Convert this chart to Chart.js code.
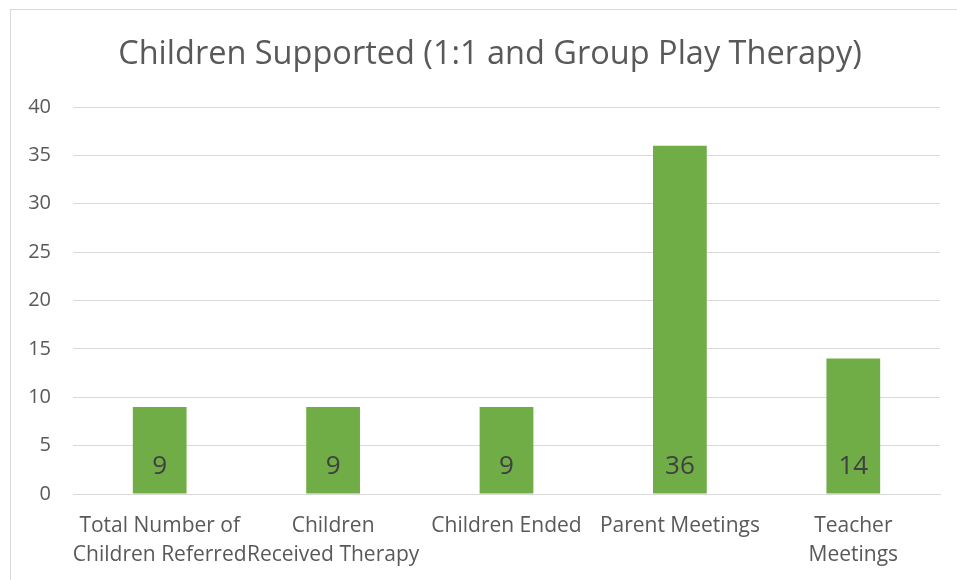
<!DOCTYPE html>
<html>
<head>
<meta charset="utf-8">
<script src="https://cdn.jsdelivr.net/npm/chart.js@4.4.1/dist/chart.umd.min.js"></script>
<style>
  html, body { margin:0; padding:0; background:#fff; overflow:hidden; }
  #frame { position:absolute; left:10px; top:9px; width:960px; height:600px; border:1px solid #d9d9d9; box-sizing:border-box; }
  #wrap { position:absolute; left:0; top:0; width:957px; height:580px; }
</style>
</head>
<body>
<div id="frame"></div>
<div id="wrap"><canvas id="chart"></canvas></div>
<script>
const categories = [
    ["Total Number of", "Children Referred"],
    ["Children", "Received Therapy"],
    "Children Ended",
    "Parent Meetings",
    ["Teacher", "Meetings"]
];
const values = [9, 9, 9, 36, 14];
const yTicks = [0, 5, 10, 15, 20, 25, 30, 35, 40];
const titleText = "Children Supported (1:1 and Group Play Therapy)";

const FONT = "'Open Sans', sans-serif";

// title is centred on the chart frame (which runs off the right edge), not on the canvas
const frameTitle = {
    id: "frameTitle",
    afterDraw(chart) {
        const ctx = chart.ctx;
        ctx.save();
        ctx.font = "32.5px " + FONT;
        ctx.fillStyle = "#595959";
        ctx.textAlign = "center";
        ctx.textBaseline = "middle";
        ctx.fillText(titleText, 490, 55);
        ctx.restore();
    }
};

// value labels drawn inside the bars, near the bottom
const barLabels = {
    id: "barLabels",
    afterDatasetsDraw(chart) {
        const ctx = chart.ctx;
        const meta = chart.getDatasetMeta(0);
        const yScale = chart.scales.y;
        ctx.save();
        ctx.font = "26px " + FONT;
        ctx.fillStyle = "#404040";
        ctx.textAlign = "center";
        ctx.textBaseline = "middle";
        meta.data.forEach((bar, i) => {
            ctx.fillText(String(values[i]), bar.x, yScale.getPixelForValue(0) - 27);
        });
        ctx.restore();
    }
};

new Chart(document.getElementById("chart"), {
    type: "bar",
    data: {
        labels: categories,
        datasets: [{
            data: values,
            backgroundColor: "#70ad47",
            categoryPercentage: 1,
            barPercentage: 0.31
        }]
    },
    options: {
        responsive: true,
        maintainAspectRatio: false,
        animation: false,
        layout: { padding: { left: 0, right: 17, top: 107, bottom: 0 } },
        plugins: {
            legend: { display: false },
            tooltip: { enabled: false },
            title: { display: false }
        },
        scales: {
            x: {
                grid: { display: false },
                border: { color: "#d9d9d9", width: 1 },
                ticks: {
                    color: "#595959",
                    font: { family: FONT, size: 21, lineHeight: 1.38 },
                    padding: 10,
                    maxRotation: 0,
                    autoSkip: false
                },
                afterFit(scale) { scale.height = 86; }
            },
            y: {
                min: 0,
                max: 40,
                afterBuildTicks(scale) { scale.ticks = yTicks.map(v => ({ value: v })); },
                grid: { color: "#d9d9d9", drawTicks: false },
                border: { display: false },
                ticks: {
                    color: "#595959",
                    font: { family: FONT, size: 20 },
                    padding: 22
                },
                afterFit(scale) { scale.width = 73; }
            }
        }
    },
    plugins: [barLabels, frameTitle]
});
</script>
</body>
</html>
